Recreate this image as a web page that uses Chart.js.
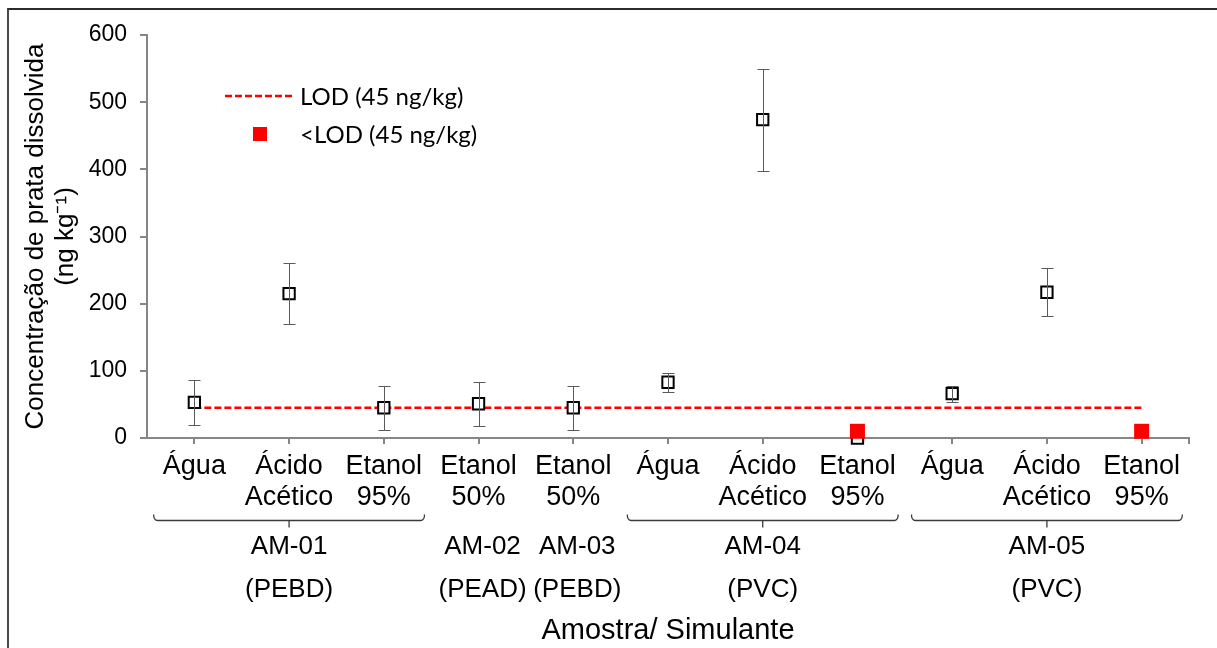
<!DOCTYPE html>
<html lang="pt">
<head>
<meta charset="utf-8">
<script src="https://cdn.jsdelivr.net/npm/chart.js@4.4.1/dist/chart.umd.min.js"></script>
<style>
  html, body { margin: 0; padding: 0; background: #fff; }
  #wrap { position: relative; width: 1217px; height: 648px; overflow: hidden; }
  #frame { position: absolute; left: 7px; top: 8px; width: 1300px; height: 700px;
           border-top: 2px solid #2b2b2b; border-left: 2px solid #4a4a4a; }
  canvas { position: absolute; left: 0; top: 0; }
</style>
</head>
<body>
<div id="wrap">
  <div id="frame"></div>
  <canvas id="grafico" width="1217" height="648"></canvas>
</div>
<script>
// Simulantes (one per x position), grouped by sample
const simulantes = [
  ["Água"], ["Ácido", "Acético"], ["Etanol", "95%"],
  ["Etanol", "50%"],
  ["Etanol", "50%"],
  ["Água"], ["Ácido", "Acético"], ["Etanol", "95%"],
  ["Água"], ["Ácido", "Acético"], ["Etanol", "95%"]
];
const amostras = ["AM-01", "AM-02", "AM-03", "AM-04", "AM-05"];
const materiais = ["(PEBD)", "(PEAD)", "(PEBD)", "(PVC)", "(PVC)"];
const grupoInicio = [1, 4, 5, 6, 9];
const grupoFim = [3, 4, 5, 8, 11];

// Dissolved silver (ng/kg), standard deviation, and results below the LOD
const concentracao = [53, 215, 45, 51, 45, 83, 474, 0, 66, 217, null];
const desvio = [33, 46, 33, 33, 33, 14, 76, 0, 12, 36, null];
const abaixoLOD = [null, null, null, null, null, null, null, 10, null, null, 10];
const LOD = 45;
const yTicks = [0, 100, 200, 300, 400, 500, 600];

const FONTE = '"Liberation Sans", Arial, sans-serif';
const FONTE_LEGENDA = 'Lato, "Open Sans", sans-serif';

const pontos = arr => arr.map((v, i) => v === null ? null : { x: i + 1, y: v }).filter(p => p);

// Vertical error bars with caps
const barrasErro = {
  id: 'barrasErro',
  afterDatasetsDraw(chart) {
    const { ctx, scales: { x, y } } = chart;
    ctx.save();
    ctx.strokeStyle = '#5a5a5a';
    ctx.lineWidth = 1;
    concentracao.forEach((v, i) => {
      const d = desvio[i];
      if (v === null || !d) return;
      const px = Math.round(x.getPixelForValue(i + 1)) + 0.5;
      const yt = Math.round(y.getPixelForValue(v + d)) + 0.5;
      const yb = Math.round(y.getPixelForValue(v - d)) + 0.5;
      ctx.beginPath();
      ctx.moveTo(px, yt); ctx.lineTo(px, yb);
      ctx.moveTo(px - 6, yt); ctx.lineTo(px + 6, yt);
      ctx.moveTo(px - 6, yb); ctx.lineTo(px + 6, yb);
      ctx.stroke();
    });
    ctx.restore();
  }
};

// Sample brackets and names under the simulant labels
const grupos = {
  id: 'grupos',
  afterDraw(chart) {
    const { ctx, scales: { x } } = chart;
    ctx.save();
    ctx.strokeStyle = '#3a3a3a';
    ctx.lineWidth = 1.3;
    ctx.fillStyle = '#000';
    ctx.font = '26px ' + FONTE;
    ctx.textAlign = 'center';
    ctx.textBaseline = 'middle';
    amostras.forEach((nome, i) => {
      const ini = grupoInicio[i], fim = grupoFim[i];
      const centro = (ini + fim) / 2;
      let cx = x.getPixelForValue(centro);
      if (fim > ini) {
        const meia = (fim - ini) / 2 + 0.43;
        const x0 = x.getPixelForValue(centro - meia);
        const x1 = x.getPixelForValue(centro + meia);
        const yb = 520.5;
        ctx.beginPath();
        ctx.moveTo(x0, yb - 6);
        ctx.quadraticCurveTo(x0, yb, x0 + 4, yb);
        ctx.lineTo(x1 - 4, yb);
        ctx.quadraticCurveTo(x1, yb, x1, yb - 6);
        ctx.moveTo(cx, yb);
        ctx.lineTo(cx, yb + 7);
        ctx.stroke();
      } else {
        cx += 4;
      }
      ctx.fillText(nome, cx, 547);
      ctx.fillText(materiais[i], cx, 590);
    });
    ctx.restore();
  }
};

// Legend placed inside the plot area
const legendaInterna = {
  id: 'legendaInterna',
  afterDraw(chart) {
    const { ctx } = chart;
    const dsLinha = chart.data.datasets[2];
    const dsLOD = chart.data.datasets[0];
    ctx.save();
    ctx.font = '24px ' + FONTE_LEGENDA;
    ctx.fillStyle = '#000';
    ctx.textAlign = 'left';
    ctx.textBaseline = 'middle';
    ctx.strokeStyle = dsLinha.borderColor;
    ctx.lineWidth = 2.5;
    ctx.setLineDash(dsLinha.borderDash);
    ctx.beginPath();
    ctx.moveTo(225, 96);
    ctx.lineTo(293, 96);
    ctx.stroke();
    ctx.setLineDash([]);
    ctx.fillText(dsLinha.label, 300, 97);
    ctx.fillStyle = dsLOD.pointBackgroundColor;
    ctx.fillRect(253, 127, 14, 14);
    ctx.fillStyle = '#000';
    ctx.fillText(dsLOD.label, 300, 135);
    ctx.restore();
  }
};

new Chart(document.getElementById('grafico'), {
  type: 'scatter',
  data: {
    datasets: [
      {
        label: '<LOD (45 ng/kg)',
        data: pontos(abaixoLOD),
        pointStyle: 'rect',
        pointRadius: 10.6,
        pointHoverRadius: 10.6,
        pointBackgroundColor: '#ff0000',
        pointBorderColor: '#ff0000',
        pointBorderWidth: 0,
        clip: false
      },
      {
        label: 'Concentração',
        data: pontos(concentracao),
        pointStyle: 'rect',
        pointRadius: 8,
        pointHoverRadius: 8,
        pointBackgroundColor: '#ffffff',
        pointBorderColor: '#000000',
        pointBorderWidth: 2,
        clip: false
      },
      {
        type: 'line',
        label: 'LOD (45 ng/kg)',
        data: simulantes.map((s, i) => ({ x: i + 1, y: LOD })),
        showLine: true,
        borderColor: '#ff0000',
        borderWidth: 2.5,
        borderDash: [7, 3],
        pointRadius: 0,
        fill: false
      }
    ]
  },
  options: {
    responsive: false,
    animation: false,
    devicePixelRatio: 1,
    layout: { padding: { left: 7, top: 35, right: 28, bottom: 0 } },
    plugins: { legend: { display: false }, tooltip: { enabled: false } },
    scales: {
      x: {
        type: 'linear',
        min: 0.5,
        max: 11.5,
        afterBuildTicks(scale) {
          scale.ticks = simulantes.map((s, i) => ({ value: i + 1 })).concat([{ value: 11.5 }]);
        },
        afterFit(scale) { scale.height = 210; },
        ticks: {
          autoSkip: false,
          maxRotation: 0,
          minRotation: 0,
          padding: 7,
          color: '#000',
          font: { family: FONTE, size: 27, lineHeight: '31px' },
          callback: v => (Number.isInteger(v) && simulantes[v - 1]) ? simulantes[v - 1] : ''
        },
        grid: { drawOnChartArea: false, drawTicks: true, tickLength: 6, color: '#868686', lineWidth: 2 },
        border: { display: true, color: '#868686', width: 2 },
        title: {
          display: true,
          text: 'Amostra/ Simulante',
          color: '#000',
          font: { family: FONTE, size: 29, lineHeight: 1.2 },
          padding: { top: 0, bottom: 0 }
        }
      },
      y: {
        min: 0,
        max: 600,
        afterBuildTicks(scale) { scale.ticks = yTicks.map(v => ({ value: v })); },
        afterFit(scale) { scale.width = 140; },
        ticks: { padding: 13, color: '#000', font: { family: FONTE, size: 23 } },
        grid: { drawOnChartArea: false, drawTicks: true, tickLength: 7, color: '#868686', lineWidth: 2 },
        border: { display: true, color: '#868686', width: 2 },
        title: {
          display: true,
          text: ['Concentração de prata dissolvida', '(ng kg⁻¹)'],
          color: '#000',
          font: { family: FONTE, size: 26, lineHeight: '30px' },
          padding: { top: 14, bottom: 0 }
        }
      }
    }
  },
  plugins: [barrasErro, grupos, legendaInterna]
});
</script>
</body>
</html>
